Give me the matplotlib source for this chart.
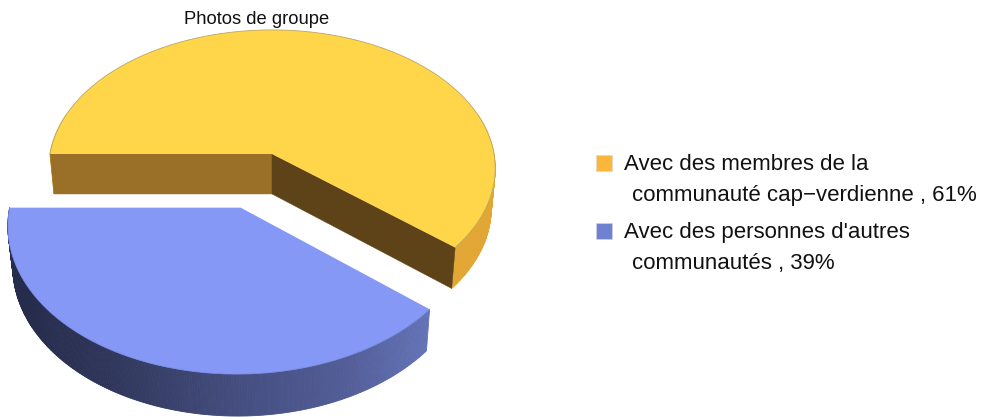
import numpy as np
import matplotlib
matplotlib.use("Agg")
import matplotlib.pyplot as plt
from matplotlib.patches import Polygon, Rectangle
from matplotlib.colors import to_rgb

plt.rcParams['font.family'] = ['Liberation Sans', 'DejaVu Sans']

title = "Photos de groupe"
labels = ["Avec des membres de la\n communauté cap\u2212verdienne , 61%",
          "Avec des personnes d'autres\n communautés , 39%"]
shares = [61, 39]
explode = [0.0, 0.4]
top_colors = ["#FFD64A", "#8598F5"]
legend_colors = ["#FBB73C", "#7080D2"]

# perspective camera for the 3D pie (image pixels)
CX, CY, A, B, C, K, M = 272, 154, 222, 137, 40.7, 0.104, -0.018

# shading of the blue outer wall across the image width
shade_x = [30, 100, 240, 340, 430]
shade_c = np.array([to_rgb(c) for c in ["#262C4C", "#2E3558", "#454E80", "#525C96", "#6474B8"]])


def project(X, Y, z):
    w = 1 + K * Y + M * z
    return CX + A * X / w, CY - (B * Y + C * z) / w


fig = plt.figure(figsize=(9.86, 4.17), dpi=100)
ax = fig.add_axes([0, 0, 1, 1])
ax.set_xlim(0, 986)
ax.set_ylim(417, 0)
ax.axis('off')

total = sum(shares)
a_y0 = np.pi
a_y1 = a_y0 - 2 * np.pi * shares[0] / total      # yellow: clockwise from the left
a_b0 = a_y1
a_b1 = a_b0 - 2 * np.pi * shares[1] / total


def wall_quad(X, Y, z0=-1, z1=0):
    px0, py0 = project(X, Y, z1)
    px1, py1 = project(X, Y, z0)
    return np.c_[np.r_[px0, px1[::-1]], np.r_[py0, py1[::-1]]]


def draw_wedge(idx, a0, a1, wall_color=None, cut_left=None, cut_right=None, z=1):
    mid = (a0 + a1) / 2
    ox, oy = explode[idx] * np.cos(mid), explode[idx] * np.sin(mid)
    n = 240
    t = np.linspace(a0, a1, n)
    X, Y = ox + np.cos(t), oy + np.sin(t)
    # outer wall with a shading gradient
    for i in range(n - 1):
        if Y[i] > oy + 0.3 and idx == 0:
            continue
        q = wall_quad(X[i:i + 2], Y[i:i + 2])
        if wall_color:
            col = wall_color
        else:
            xm = q[:, 0].mean()
            col = tuple(np.interp(xm, shade_x, shade_c[:, k]) for k in range(3))
        ax.add_patch(Polygon(q, closed=True, fc=col, ec=col, lw=0.6, zorder=z))
    # flat cut faces
    if cut_left:
        q = wall_quad(np.array([X[0], ox]), np.array([Y[0], oy]))
        ax.add_patch(Polygon(q, closed=True, fc=cut_left, ec=cut_left, lw=0.3, zorder=z + 0.1))
    if cut_right:
        q = wall_quad(np.array([ox, X[-1]]), np.array([oy, Y[-1]]))
        ax.add_patch(Polygon(q, closed=True, fc=cut_right, ec=cut_right, lw=0.3, zorder=z + 0.1))
    # top face
    px, py = project(np.r_[ox, X], np.r_[oy, Y], 0)
    ax.add_patch(Polygon(np.c_[px, py], closed=True, fc=top_colors[idx], ec='none', zorder=z + 0.2))
    edge = "#BBA860" if idx == 0 else "#7C8EE6"
    ax.plot(px[1:], py[1:], color=edge, lw=0.6, zorder=z + 0.3, solid_joinstyle='round')


draw_wedge(0, a_y0, a_y1, wall_color="#E2A634", cut_left="#9A6F27", cut_right="#5F4318", z=1)
draw_wedge(1, a_b0, a_b1, z=2)

ax.text(257, 19.5, title, ha='center', va='center', fontsize=13.2, color='#111111')

# legend
for y, col in zip([155, 223], legend_colors):
    ax.add_patch(Rectangle((596, y), 16, 16, fc=col, ec='#D8D8D8', lw=0.4, zorder=5))
rows = [(624, 164, labels[0].split("\n")[0]), (632, 195, labels[0].split("\n")[1].strip()),
        (624, 232, labels[1].split("\n")[0]), (632, 263, labels[1].split("\n")[1].strip())]
for x, y, s in rows:
    ax.text(x, y, s, ha='left', va='center', fontsize=16, color='#111111')

fig.savefig("out.png", dpi=100)
